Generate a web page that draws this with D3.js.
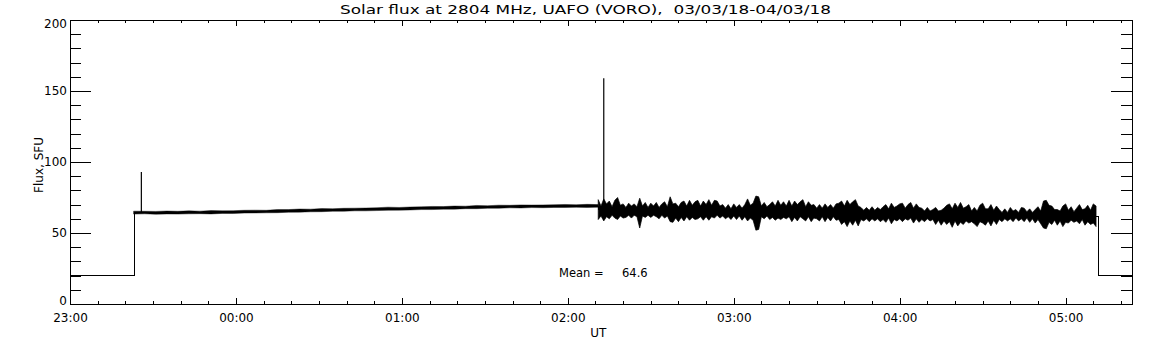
<!DOCTYPE html>
<html>
<head>
<meta charset="utf-8">
<script src="https://cdn.jsdelivr.net/npm/d3@7"></script>
<style>
body { margin: 0; background: #fff; }
text { font-family: "DejaVu Sans", sans-serif; fill: #000; }
</style>
</head>
<body>
<div id="chart"></div>
<script>
// --- data (flux in SFU, UT times) ---
var title = "Solar flux at 2804 MHz, UAFO (VORO),  03/03/18-04/03/18";
var hourLabels = ["23:00", "00:00", "01:00", "02:00", "03:00", "04:00", "05:00"];
var fluxTicks = [0, 50, 100, 150, 200];
var meanFlux = 64.6;

// level recorded while the receiver was off / parked
var offLevel = 20;
var stepOn = "23:23.2";
var stepOff = "05:12";

// quiet part, one sample every 4 min from 23:23
var quietStart = "23:23";
var quietStep = 4;
var quietHi = [65.4, 65.3, 65.2, 65.5, 65.3, 65.6, 65.4, 65.8, 65.6, 65.7, 66.0, 66.1, 66.0, 66.5, 66.5,
  66.9, 66.8, 67.2, 67.1, 67.4, 67.5, 67.6, 67.8, 68.2, 68.0, 68.3, 68.4, 68.7, 68.6, 69.0, 68.9, 69.4,
  69.2, 69.6, 69.5, 69.8, 69.7, 69.8, 69.9, 70.1, 69.9, 70.2, 70.0];
var quietLo = [63.3, 63.5, 63.2, 63.4, 63.3, 63.5, 63.6, 63.4, 63.8, 63.7, 64.0, 64.1, 64.2, 64.3, 64.6,
  64.7, 64.9, 65.0, 65.3, 65.3, 65.6, 65.6, 65.8, 66.0, 66.1, 66.2, 66.5, 66.5, 66.8, 66.8, 67.1, 67.1,
  67.4, 67.4, 67.7, 67.6, 67.9, 67.8, 68.0, 68.0, 68.1, 68.0, 68.2];

// noisy part, envelope per minute from 02:11
var noisyStart = "02:11";
var noisyStep = 1;
var noisyHi = [
  73.5, 69.0, 74.0, 70.5, 72.5, 68.5, 73.0, 75.0, 69.5, 70.5,
  68.0, 71.0, 69.0, 70.5, 68.5, 74.5, 69.0, 71.5, 68.0, 71.0,
  69.0, 71.5, 68.0, 70.5, 72.0, 68.5, 75.5, 70.5, 71.0, 68.5,
  71.5, 72.5, 69.0, 73.0, 69.5, 72.0, 73.0, 69.0, 72.5, 70.0,
  73.5, 69.5, 73.0, 72.5, 69.0, 70.0, 67.5, 70.0, 67.0, 70.5,
  68.0, 70.0, 67.5, 70.0, 74.0, 69.5, 71.0, 76.0, 75.5, 69.0,
  71.5, 68.5, 70.0, 72.0, 69.0, 73.0, 69.5, 72.0, 69.0, 73.0,
  69.0, 72.5, 70.0, 72.0, 73.5, 68.5, 72.0, 69.5, 70.0, 67.5,
  70.0, 67.5, 70.5, 68.0, 70.0, 67.5, 70.5, 71.0, 72.5, 69.0,
  73.0, 70.0, 72.0, 73.5, 69.0, 68.0, 66.0, 68.0, 66.0, 68.5,
  66.0, 68.0, 66.5, 68.5, 70.0, 67.0, 71.0, 68.0, 69.0, 70.5,
  71.0, 67.5, 70.0, 71.5, 67.5, 70.5, 68.0, 67.5, 65.5, 68.0,
  65.5, 66.5, 68.0, 65.5, 66.0, 67.5, 69.5, 70.5, 67.0, 71.0,
  68.0, 71.5, 67.5, 68.5, 70.0, 65.5, 68.0, 65.5, 69.5, 71.0,
  67.0, 67.0, 70.0, 66.0, 69.0, 66.5, 64.5, 67.0, 64.5, 68.0,
  65.5, 66.5, 64.5, 68.0, 67.5, 65.0, 67.0, 64.5, 66.5, 68.5,
  65.5, 72.5, 73.0, 69.5, 69.0, 66.5, 66.5, 65.5, 69.0, 70.5,
  66.0, 68.5, 65.0, 67.5, 70.0, 66.5, 67.0, 69.5, 66.0, 70.5, 69.0];
var noisyLo = [
  59.5, 62.0, 58.5, 61.5, 60.0, 62.5, 60.5, 59.5, 62.0, 60.5,
  61.0, 62.5, 60.5, 62.5, 61.5, 53.5, 62.0, 61.0, 62.5, 61.0,
  62.5, 61.5, 60.0, 62.5, 60.5, 62.0, 58.0, 57.5, 60.5, 58.0,
  61.0, 58.5, 61.5, 59.0, 61.0, 59.5, 60.0, 61.5, 59.0, 61.5,
  59.0, 61.5, 60.5, 62.5, 60.5, 62.0, 60.0, 61.5, 59.5, 62.0,
  59.5, 62.0, 59.0, 61.5, 58.5, 60.5, 59.0, 52.0, 52.5, 61.5,
  60.0, 62.0, 59.5, 61.0, 59.0, 60.5, 59.5, 61.0, 60.0, 61.5,
  58.0, 61.0, 58.5, 61.5, 60.0, 58.5, 61.5, 58.0, 60.5, 60.0,
  58.5, 61.5, 58.0, 61.0, 58.5, 61.5, 59.0, 59.5, 56.0, 58.0,
  54.5, 58.5, 55.5, 59.0, 55.0, 59.5, 58.5, 60.0, 58.0, 60.0,
  58.5, 60.0, 58.0, 59.5, 57.5, 60.5, 56.5, 59.5, 58.5, 60.0,
  58.0, 60.0, 59.0, 60.5, 57.0, 60.0, 57.5, 59.5, 58.0, 60.0,
  58.5, 59.5, 56.0, 59.0, 55.5, 58.5, 56.0, 58.0, 54.0, 58.5,
  55.0, 57.5, 56.0, 58.5, 57.0, 58.0, 56.5, 54.5, 58.0, 57.0,
  55.5, 58.5, 55.0, 59.0, 56.0, 59.5, 58.0, 60.0, 58.5, 60.0,
  58.0, 60.5, 58.5, 60.0, 58.0, 60.5, 57.5, 60.0, 57.0, 59.5,
  56.5, 53.5, 53.0, 57.5, 56.0, 59.0, 55.5, 58.5, 54.5, 57.5,
  57.0, 59.0, 57.5, 58.5, 56.5, 59.5, 55.5, 58.0, 56.0, 57.0, 54.5];

// short bursts
var spikeTimes = ["23:25.8", "02:13"];
var spikeBase = [64.6, 66];
var spikePeak = [93, 159];

// --- layout ---
var width = 1152, height = 345;
var margin = {top: 20, right: 20, bottom: 41, left: 70};
var plotW = width - margin.left - margin.right;
var plotH = height - margin.top - margin.bottom;

// "HH:MM" (minutes may be fractional) -> Date, evening hours on 3 March, rest on 4 March
function ut(s) {
  var p = s.split(":");
  var h = +p[0], m = parseFloat(p[1]);
  return new Date(Date.UTC(2018, 2, h >= 12 ? 3 : 4, h, 0) + m * 60000);
}
function later(d, minutes) { return new Date(d.getTime() + minutes * 60000); }

var x = d3.scaleUtc()
  .domain([ut("23:00"), ut("05:24")])
  .range([margin.left, margin.left + plotW]);

var y = d3.scaleLinear()
  .domain([0, 200])
  .range([margin.top + plotH, margin.top]);

var svg = d3.select("#chart").append("svg")
  .attr("width", width)
  .attr("height", height)
  .style("display", "block");

// title
svg.append("text")
  .attr("x", 340)
  .attr("y", 14)
  .attr("textLength", 491)
  .attr("lengthAdjust", "spacingAndGlyphs")
  .style("font-size", "13px")
  .style("white-space", "pre")
  .text(title);

// --- axes, IDL style: box with inward ticks ---
var majorX = hourLabels.map(ut);
var minorX = d3.utcMinute.every(10).range(x.domain()[0], later(x.domain()[1], 1));
var minorY = d3.range(0, 201, 10);

function noLabels() { return ""; }

var axes = svg.append("g").attr("class", "axes");

axes.append("g")
  .attr("transform", "translate(0," + y(0) + ")")
  .call(d3.axisBottom(x).tickValues(minorX).tickSizeInner(-2.8).tickSizeOuter(0).tickFormat(noLabels));
axes.append("g")
  .attr("transform", "translate(0," + y(0) + ")")
  .call(d3.axisBottom(x).tickValues(majorX).tickSizeInner(-5.6).tickSizeOuter(0).tickPadding(9)
    .tickFormat(d3.utcFormat("%H:%M")));
axes.append("g")
  .attr("transform", "translate(0," + y(200) + ")")
  .call(d3.axisTop(x).tickValues(minorX).tickSizeInner(-2.8).tickSizeOuter(0).tickFormat(noLabels));
axes.append("g")
  .attr("transform", "translate(0," + y(200) + ")")
  .call(d3.axisTop(x).tickValues(majorX).tickSizeInner(-5.6).tickSizeOuter(0).tickFormat(noLabels));

axes.append("g")
  .attr("transform", "translate(" + x.range()[0] + ",0)")
  .call(d3.axisLeft(y).tickValues(minorY).tickSizeInner(-10.8).tickSizeOuter(0).tickFormat(noLabels));
axes.append("g")
  .attr("transform", "translate(" + x.range()[0] + ",0)")
  .call(d3.axisLeft(y).tickValues(fluxTicks).tickSizeInner(-21).tickSizeOuter(0).tickFormat(noLabels));
axes.append("g")
  .attr("transform", "translate(" + x.range()[1] + ",0)")
  .call(d3.axisRight(y).tickValues(minorY).tickSizeInner(-10.8).tickSizeOuter(0).tickFormat(noLabels));
axes.append("g")
  .attr("transform", "translate(" + x.range()[1] + ",0)")
  .call(d3.axisRight(y).tickValues(fluxTicks).tickSizeInner(-21).tickSizeOuter(0).tickFormat(noLabels));

axes.selectAll("line").attr("stroke", "#000").attr("shape-rendering", "crispEdges");
axes.selectAll(".domain").attr("stroke", "#000").attr("shape-rendering", "crispEdges");
axes.selectAll("text")
  .style("font-size", "12px")
  .style("font-family", "\"DejaVu Sans\", sans-serif")
  .attr("fill", "#000");

// y tick labels: kept inside the box height like IDL does
axes.append("g").selectAll("text")
  .data(fluxTicks)
  .enter()
  .append("text")
  .attr("x", x.range()[0] - 3)
  .attr("y", function(d) { return Math.max(y(200) + 7.5, Math.min(y(0) + 0.8, y(d) + 4)); })
  .attr("text-anchor", "end")
  .style("font-size", "12px")
  .text(function(d) { return d; });

// axis titles
svg.append("text")
  .attr("x", x(ut("02:11")))
  .attr("y", 337)
  .attr("text-anchor", "middle")
  .style("font-size", "12px")
  .text("UT");

svg.append("text")
  .attr("transform", "translate(43," + (margin.top + plotH / 2 + 3) + ") rotate(-90)")
  .attr("text-anchor", "middle")
  .style("font-size", "12px")
  .style("white-space", "pre")
  .text("Flux, SFU");

// --- the record ---
var plot = svg.append("g").attr("class", "trace");

var quiet = quietHi.map(function(v, i) {
  return {t: later(ut(quietStart), i * quietStep), hi: v, lo: quietLo[i]};
});
var noisy = noisyHi.map(function(v, i) {
  return {t: later(ut(noisyStart), i * noisyStep), hi: v, lo: noisyLo[i]};
});

var band = d3.area()
  .x(function(d) { return x(d.t); })
  .y0(function(d) { return y(d.lo); })
  .y1(function(d) { return y(d.hi); });

plot.append("path")
  .datum(quiet)
  .attr("d", band)
  .attr("fill", "#000")
  .attr("stroke", "#000")
  .attr("stroke-width", 0.4);

plot.append("path")
  .datum(noisy)
  .attr("d", band)
  .attr("fill", "#000")
  .attr("stroke", "#000")
  .attr("stroke-width", 0.7);

var line = d3.line()
  .x(function(d) { return x(d.t); })
  .y(function(d) { return y(d.v); });

function mid(d) { return (d.hi + d.lo) / 2; }
var firstQ = quiet[0], lastQ = quiet[quiet.length - 1];
var firstN = noisy[0], lastN = noisy[noisy.length - 1];

var connectors = [
  [{t: x.domain()[0], v: offLevel}, {t: ut(stepOn), v: offLevel}, {t: ut(stepOn), v: mid(firstQ)},
   {t: firstQ.t, v: mid(firstQ)}],
  [{t: lastQ.t, v: mid(lastQ)}, {t: firstN.t, v: mid(firstN)}],
  [{t: lastN.t, v: mid(lastN)}, {t: ut(stepOff), v: mid(lastN)}, {t: ut(stepOff), v: offLevel},
   {t: x.domain()[1], v: offLevel}]
];

connectors.forEach(function(c) {
  plot.append("path")
    .datum(c)
    .attr("d", line)
    .attr("fill", "none")
    .attr("stroke", "#000")
    .attr("stroke-width", 1.2)
    .attr("shape-rendering", "crispEdges");
});

plot.selectAll(".spike")
  .data(spikeTimes)
  .enter()
  .append("line")
  .attr("class", "spike")
  .attr("x1", function(d) { return x(ut(d)); })
  .attr("x2", function(d) { return x(ut(d)); })
  .attr("y1", function(d, i) { return y(spikeBase[i]); })
  .attr("y2", function(d, i) { return y(spikePeak[i]); })
  .attr("stroke", "#000")
  .attr("stroke-width", 1.2);

// mean annotation
svg.append("text")
  .attr("x", 559)
  .attr("y", 277)
  .style("font-size", "11.5px")
  .text("Mean =");
svg.append("text")
  .attr("x", 622)
  .attr("y", 277)
  .style("font-size", "11.5px")
  .text(d3.format(".1f")(meanFlux));
</script>
</body>
</html>
